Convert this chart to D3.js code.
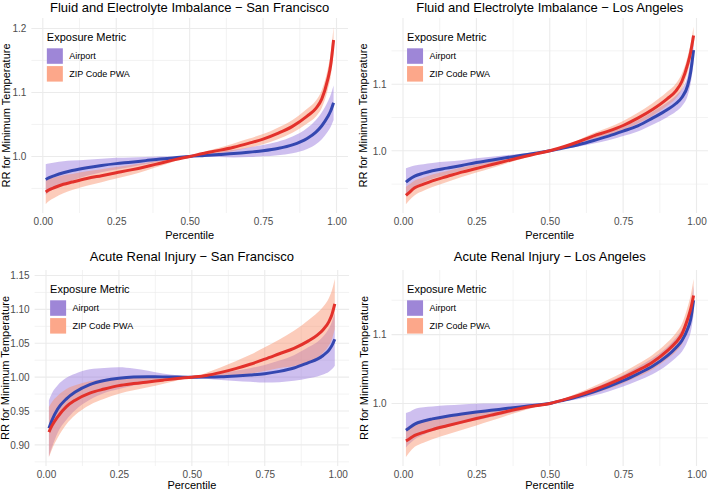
<!DOCTYPE html>
<html><head><meta charset="utf-8">
<script src="https://cdn.jsdelivr.net/npm/d3@7"></script>
<style>
body{margin:0;background:#fff}
svg{display:block}
text{font-family:"Liberation Sans",Arial,Helvetica,sans-serif}
</style>
</head><body>
<svg id="chart" width="709" height="491"></svg>
<script>
// ---------- data ----------
const percentile = [0.01,0.02,0.04,0.07,0.10,0.15,0.20,0.25,0.30,0.35,0.40,0.45,0.50,0.55,0.60,0.65,0.70,0.75,0.80,0.85,0.90,0.93,0.95,0.97,0.98,0.99];
const seriesNames = ["Airport","ZIP Code PWA"];
const panelTitles = ["Fluid and Electrolyte Imbalance \u2212 San Francisco","Fluid and Electrolyte Imbalance \u2212 Los Angeles","Acute Renal Injury \u2212 San Francisco","Acute Renal Injury \u2212 Los Angeles"];
const xTicks = [0,0.25,0.5,0.75,1];
const xTickLabels = ["0.00","0.25","0.50","0.75","1.00"];
const xMinor = [0.125,0.375,0.625,0.875];

// Fluid and Electrolyte Imbalance - San Francisco
const sfFluidAirportRR = [0.9640,0.9665,0.9700,0.9745,0.9780,0.9825,0.9860,0.9888,0.9910,0.9935,0.9960,0.9980,1.0000,1.0015,1.0030,1.0045,1.0065,1.0090,1.0125,1.0180,1.0280,1.0380,1.0480,1.0620,1.0710,1.0840];
const sfFluidAirportLo = [0.9400,0.9440,0.9495,0.9565,0.9625,0.9700,0.9755,0.9798,0.9835,0.9877,0.9920,0.9960,1.0000,0.9995,0.9990,0.9985,0.9990,1.0002,1.0020,1.0050,1.0115,1.0190,1.0270,1.0385,1.0460,1.0570];
const sfFluidAirportHi = [0.9880,0.9890,0.9905,0.9925,0.9935,0.9950,0.9965,0.9978,0.9985,0.9993,1.0000,1.0000,1.0000,1.0035,1.0070,1.0105,1.0140,1.0178,1.0230,1.0310,1.0445,1.0570,1.0690,1.0855,1.0960,1.1110];
const sfFluidZipRR = [0.9445,0.9475,0.9515,0.9565,0.9600,0.9655,0.9700,0.9745,0.9790,0.9840,0.9895,0.9950,1.0000,1.0050,1.0095,1.0145,1.0205,1.0270,1.0360,1.0470,1.0630,1.0750,1.0900,1.1200,1.1420,1.1820];
const sfFluidZipLo = [0.9255,0.9300,0.9355,0.9425,0.9475,0.9543,0.9598,0.9655,0.9712,0.9778,0.9850,0.9927,1.0000,1.0028,1.0053,1.0087,1.0135,1.0190,1.0270,1.0370,1.0515,1.0625,1.0760,1.1040,1.1240,1.1615];
const sfFluidZipHi = [0.9635,0.9650,0.9675,0.9705,0.9725,0.9767,0.9802,0.9835,0.9868,0.9902,0.9940,0.9973,1.0000,1.0072,1.0137,1.0203,1.0275,1.0350,1.0450,1.0570,1.0745,1.0875,1.1040,1.1360,1.1600,1.2025];
const sfFluidYTicks = [1.0,1.1,1.2], sfFluidYLabels = ["1.0","1.1","1.2"], sfFluidYMinor = [0.95,1.05,1.15];

// Fluid and Electrolyte Imbalance - Los Angeles
const laFluidAirportRR = [0.9530,0.9565,0.9620,0.9665,0.9700,0.9740,0.9780,0.9825,0.9860,0.9895,0.9930,0.9965,1.0000,1.0045,1.0095,1.0155,1.0220,1.0295,1.0375,1.0490,1.0615,1.0710,1.0800,1.0980,1.1180,1.1510];
const laFluidAirportLo = [0.9320,0.9375,0.9460,0.9530,0.9582,0.9642,0.9702,0.9763,0.9810,0.9857,0.9903,0.9951,1.0000,1.0030,1.0065,1.0110,1.0160,1.0223,1.0290,1.0392,1.0505,1.0590,1.0670,1.0830,1.1010,1.1310];
const laFluidAirportHi = [0.9740,0.9755,0.9780,0.9800,0.9818,0.9838,0.9858,0.9887,0.9910,0.9933,0.9957,0.9979,1.0000,1.0060,1.0125,1.0200,1.0280,1.0367,1.0460,1.0588,1.0725,1.0830,1.0930,1.1130,1.1350,1.1710];
const laFluidZipRR = [0.9330,0.9370,0.9445,0.9500,0.9550,0.9615,0.9680,0.9735,0.9790,0.9845,0.9900,0.9950,1.0000,1.0065,1.0140,1.0225,1.0295,1.0380,1.0490,1.0620,1.0780,1.0900,1.1040,1.1300,1.1480,1.1730];
const laFluidZipLo = [0.9200,0.9250,0.9335,0.9400,0.9457,0.9533,0.9609,0.9675,0.9740,0.9807,0.9874,0.9937,1.0000,1.0051,1.0112,1.0183,1.0240,1.0312,1.0410,1.0528,1.0675,1.0790,1.0925,1.1180,1.1355,1.1600];
const laFluidZipHi = [0.9460,0.9490,0.9555,0.9600,0.9643,0.9697,0.9751,0.9795,0.9840,0.9883,0.9926,0.9963,1.0000,1.0079,1.0168,1.0267,1.0350,1.0448,1.0570,1.0712,1.0885,1.1010,1.1155,1.1420,1.1605,1.1860];
const laFluidYTicks = [1.0,1.1], laFluidYLabels = ["1.0","1.1"], laFluidYMinor = [0.95,1.05,1.15];

// Acute Renal Injury - San Francisco
const sfRenalAirportRR = [0.9245,0.9360,0.9530,0.9680,0.9780,0.9890,0.9950,0.9985,1.0002,1.0005,1.0004,1.0002,1.0000,1.0002,1.0007,1.0018,1.0032,1.0050,1.0085,1.0135,1.0215,1.0265,1.0320,1.0400,1.0465,1.0560];
const sfRenalAirportLo = [0.8830,0.8960,0.9180,0.9370,0.9510,0.9665,0.9765,0.9825,0.9877,0.9915,0.9954,0.9977,1.0000,0.9977,0.9957,0.9943,0.9932,0.9920,0.9925,0.9945,0.9985,1.0010,1.0040,1.0080,1.0115,1.0170];
const sfRenalAirportHi = [0.9660,0.9760,0.9880,0.9990,1.0050,1.0115,1.0135,1.0145,1.0127,1.0095,1.0054,1.0027,1.0000,1.0027,1.0057,1.0093,1.0132,1.0180,1.0245,1.0325,1.0445,1.0520,1.0600,1.0720,1.0815,1.0950];
const sfRenalZipRR = [0.9190,0.9280,0.9415,0.9565,0.9660,0.9765,0.9825,0.9875,0.9905,0.9930,0.9955,0.9980,1.0000,1.0025,1.0070,1.0125,1.0190,1.0265,1.0345,1.0425,1.0535,1.0620,1.0700,1.0820,1.0920,1.1080];
const sfRenalZipLo = [0.8820,0.8930,0.9105,0.9305,0.9440,0.9590,0.9680,0.9755,0.9805,0.9852,0.9900,0.9952,1.0000,0.9985,0.9995,1.0015,1.0050,1.0090,1.0135,1.0165,1.0225,1.0290,1.0360,1.0470,1.0560,1.0710];
const sfRenalZipHi = [0.9560,0.9630,0.9725,0.9825,0.9880,0.9940,0.9970,0.9995,1.0005,1.0008,1.0010,1.0008,1.0000,1.0065,1.0145,1.0235,1.0330,1.0440,1.0555,1.0685,1.0845,1.0950,1.1040,1.1170,1.1280,1.1450];
const sfRenalYTicks = [0.90,0.95,1.00,1.05,1.10,1.15], sfRenalYLabels = ["0.90","0.95","1.00","1.05","1.10","1.15"], sfRenalYMinor = [0.875,0.925,0.975,1.025,1.075,1.125];

// Acute Renal Injury - Los Angeles
const laRenalAirportRR = [0.9610,0.9640,0.9700,0.9745,0.9775,0.9815,0.9847,0.9875,0.9900,0.9925,0.9950,0.9975,1.0000,1.0050,1.0105,1.0170,1.0245,1.0330,1.0430,1.0540,1.0690,1.0810,1.0910,1.1085,1.1220,1.1500];
const laRenalAirportLo = [0.9360,0.9405,0.9480,0.9545,0.9595,0.9657,0.9709,0.9755,0.9802,0.9850,0.9898,0.9949,1.0000,1.0030,1.0065,1.0115,1.0175,1.0245,1.0330,1.0425,1.0560,1.0665,1.0750,1.0910,1.1030,1.1290];
const laRenalAirportHi = [0.9860,0.9875,0.9920,0.9945,0.9955,0.9973,0.9985,0.9995,0.9998,1.0000,1.0002,1.0001,1.0000,1.0070,1.0145,1.0225,1.0315,1.0415,1.0530,1.0655,1.0820,1.0955,1.1070,1.1260,1.1410,1.1710];
const laRenalZipRR = [0.9455,0.9480,0.9535,0.9580,0.9620,0.9675,0.9728,0.9780,0.9830,0.9880,0.9925,0.9965,1.0000,1.0055,1.0120,1.0195,1.0280,1.0375,1.0480,1.0600,1.0765,1.0890,1.1005,1.1230,1.1370,1.1570];
const laRenalZipLo = [0.9220,0.9280,0.9370,0.9430,0.9480,0.9547,0.9613,0.9680,0.9748,0.9818,0.9883,0.9944,1.0000,1.0035,1.0082,1.0140,1.0212,1.0295,1.0388,1.0495,1.0645,1.0755,1.0855,1.1055,1.1170,1.1330];
const laRenalZipHi = [0.9645,0.9660,0.9700,0.9730,0.9760,0.9803,0.9843,0.9880,0.9912,0.9942,0.9967,0.9986,1.0000,1.0075,1.0158,1.0250,1.0348,1.0455,1.0572,1.0705,1.0885,1.1025,1.1155,1.1405,1.1570,1.1810];
const laRenalYTicks = [1.0,1.1], laRenalYLabels = ["1.0","1.1"], laRenalYMinor = [0.95,1.05,1.15];

// ---------- layout / style ----------
const layout = [
  {x0:42.8, x1:336.5, top:18,  bottom:213, titleY:12,    xTitleY:239.3, yTitleX:6},
  {x0:403,  x1:696.5, top:18,  bottom:213, titleY:12,    xTitleY:239.3, yTitleX:363.5},
  {x0:46,   x1:337.7, top:270, bottom:466, titleY:261.2, xTitleY:489.2, yTitleX:5.5},
  {x0:403,  x1:696.5, top:270, bottom:466, titleY:261.2, xTitleY:489.2, yTitleX:364.5}
];
const lineColors = ["#3447b0","#e3312b"];
const bandColors = ["#9370db","#f88f68"];
const keyColors  = ["#9e86d7","#fca78a"];
const gridColor = "#ebebeb";

const panels = [
  {title:panelTitles[0], rr:[sfFluidAirportRR,sfFluidZipRR], lo:[sfFluidAirportLo,sfFluidZipLo], hi:[sfFluidAirportHi,sfFluidZipHi], yTicks:sfFluidYTicks, yLabels:sfFluidYLabels, yMinor:sfFluidYMinor},
  {title:panelTitles[1], rr:[laFluidAirportRR,laFluidZipRR], lo:[laFluidAirportLo,laFluidZipLo], hi:[laFluidAirportHi,laFluidZipHi], yTicks:laFluidYTicks, yLabels:laFluidYLabels, yMinor:laFluidYMinor},
  {title:panelTitles[2], rr:[sfRenalAirportRR,sfRenalZipRR], lo:[sfRenalAirportLo,sfRenalZipLo], hi:[sfRenalAirportHi,sfRenalZipHi], yTicks:sfRenalYTicks, yLabels:sfRenalYLabels, yMinor:sfRenalYMinor},
  {title:panelTitles[3], rr:[laRenalAirportRR,laRenalZipRR], lo:[laRenalAirportLo,laRenalZipLo], hi:[laRenalAirportHi,laRenalZipHi], yTicks:laRenalYTicks, yLabels:laRenalYLabels, yMinor:laRenalYMinor}
];

const svg = d3.select("#chart");

panels.forEach((P, pi) => {
  const L = layout[pi];
  const pExt = d3.extent(percentile);
  const pPad = (pExt[1]-pExt[0])*0.05;
  const xs0 = d3.scaleLinear().domain([0,1]).range([L.x0, L.x1]);
  const left = xs0(pExt[0]-pPad), right = xs0(pExt[1]+pPad);
  const x = d3.scaleLinear().domain([pExt[0]-pPad, pExt[1]+pPad]).range([left, right]);
  const yMin = d3.min([...P.lo[0], ...P.lo[1]]);
  const yMax = d3.max([...P.hi[0], ...P.hi[1]]);
  const yPad = (yMax-yMin)*0.05;
  const y = d3.scaleLinear().domain([yMin-yPad, yMax+yPad]).range([L.bottom, L.top]);

  const g = svg.append("g");

  // grid
  const grid = g.append("g");
  grid.selectAll(".ymin").data(P.yMinor.filter(v => v >= y.domain()[0] && v <= y.domain()[1])).join("line")
    .attr("x1", left).attr("x2", right).attr("y1", d => y(d)).attr("y2", d => y(d))
    .attr("stroke", gridColor).attr("stroke-width", 0.6);
  grid.selectAll(".xmin").data(xMinor).join("line")
    .attr("y1", L.top).attr("y2", L.bottom).attr("x1", d => x(d)).attr("x2", d => x(d))
    .attr("stroke", gridColor).attr("stroke-width", 0.6);
  grid.selectAll(".ymaj").data(P.yTicks).join("line")
    .attr("x1", left).attr("x2", right).attr("y1", d => y(d)).attr("y2", d => y(d))
    .attr("stroke", gridColor).attr("stroke-width", 1.1);
  grid.selectAll(".xmaj").data(xTicks).join("line")
    .attr("y1", L.top).attr("y2", L.bottom).attr("x1", d => x(d)).attr("x2", d => x(d))
    .attr("stroke", gridColor).attr("stroke-width", 1.1);

  // ribbons
  [0,1].forEach(s => {
    const area = d3.area()
      .x((d,i) => x(percentile[i]))
      .y0((d,i) => y(P.lo[s][i]))
      .y1((d,i) => y(P.hi[s][i]))
      .curve(d3.curveMonotoneX);
    g.append("path").datum(percentile).attr("d", area)
      .attr("fill", bandColors[s]).attr("fill-opacity", 0.45);
  });
  // lines
  [0,1].forEach(s => {
    const line = d3.line()
      .x((d,i) => x(percentile[i]))
      .y((d,i) => y(P.rr[s][i]))
      .curve(d3.curveMonotoneX);
    g.append("path").datum(percentile).attr("d", line)
      .attr("fill", "none").attr("stroke", lineColors[s]).attr("stroke-width", 3);
  });

  // axes
  const xAxis = d3.axisBottom(x).tickValues(xTicks).tickFormat((d,i) => xTickLabels[i]).tickSize(0).tickPadding(5.2);
  const xg = g.append("g").attr("transform", `translate(0,${L.bottom})`).call(xAxis);
  xg.select(".domain").remove();
  xg.selectAll("text").attr("fill", "#4d4d4d").style("font-size", "10px").style("font-family", '"Liberation Sans",Arial,sans-serif');

  const yAxis = d3.axisLeft(y).tickValues(P.yTicks).tickFormat((d,i) => P.yLabels[i]).tickSize(0).tickPadding(5);
  const yg = g.append("g").attr("transform", `translate(${left},0)`).call(yAxis);
  yg.select(".domain").remove();
  yg.selectAll("text").attr("fill", "#4d4d4d").style("font-size", "10px").style("font-family", '"Liberation Sans",Arial,sans-serif');

  // titles
  g.append("text").attr("x", (left+right)/2).attr("y", L.titleY)
    .attr("text-anchor", "middle").style("font-size", "13px").attr("fill", "#000").text(P.title);
  g.append("text").attr("x", (left+right)/2).attr("y", L.xTitleY)
    .attr("text-anchor", "middle").style("font-size", "11px").attr("fill", "#000").text("Percentile");
  g.append("text").attr("transform", `translate(${L.yTitleX},${(L.top+L.bottom)/2}) rotate(-90)`)
    .attr("dy", "0.35em").attr("text-anchor", "middle").style("font-size", "11px").attr("fill", "#000")
    .text("RR for Minimum Temperature");

  // legend
  const lx = left + 15.5;
  const lg = g.append("g");
  lg.append("text").attr("x", lx).attr("y", L.top + 23).style("font-size", "11px").attr("fill", "#000").text("Exposure Metric");
  seriesNames.forEach((name, s) => {
    const ky = L.top + 30.3 + s*17.8;
    lg.append("rect").attr("x", lx).attr("y", ky).attr("width", 16).attr("height", 15.5).attr("fill", keyColors[s]);
    lg.append("text").attr("x", lx + 22.5).attr("y", ky + 7.75).attr("dy", "0.35em")
      .style("font-size", "9px").attr("fill", "#000").text(name);
  });
});
</script>
</body></html>
